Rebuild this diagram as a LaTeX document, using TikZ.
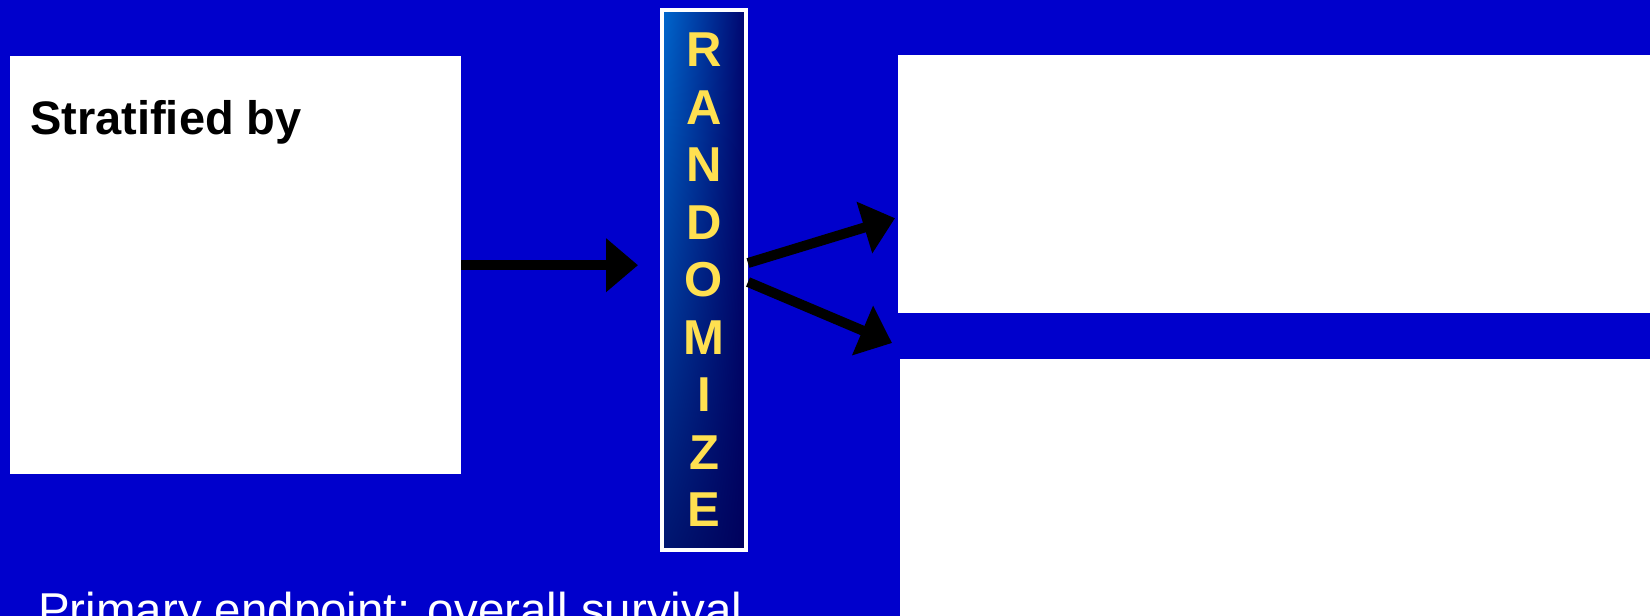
\documentclass[tikz,border=0pt]{standalone}
\usepackage{fontspec}
\setmainfont{Liberation Sans}
\definecolor{slideblue}{RGB}{0,0,204}
\definecolor{barlight}{RGB}{0,104,206}
\definecolor{bardark}{RGB}{0,4,110}
\definecolor{barmid}{RGB}{0,22,112}
\definecolor{bardeep}{RGB}{0,0,92}
\definecolor{gold}{RGB}{255,224,80}
\usetikzlibrary{arrows.meta, positioning, shadings}

\begin{document}
\begin{tikzpicture}[x=1pt, y=-1pt,
      panel/.style={rectangle, fill=white, draw=none, inner sep=0pt, anchor=north west},
      randbar/.style={rectangle, draw=white, line width=4pt, inner sep=0pt,
                      minimum width=84pt, minimum height=540pt,
                      upper left=barlight, upper right=bardark,
                      lower left=barmid, lower right=bardeep,
                      text=gold, align=center, font=\fontsize{49}{57.5}\selectfont\bfseries},
      bigarrow/.style={-{Triangle[length=32pt, width=52pt]}, line width=10pt, color=black},
      heading/.style={font=\fontsize{47}{56}\selectfont\bfseries, text=black, inner sep=0pt},
      footnote/.style={font=\fontsize{47.5}{56}\selectfont, text=white, inner sep=0pt}
    ]

    % slide background
    \fill[slideblue] (0,0) rectangle (1650,616);
    \useasboundingbox (0,0) rectangle (1650,616);

    % Strata box
    \node[panel, minimum width=451pt, minimum height=418pt] (strat) at (10,56) {};
    \node[heading, anchor=base west] (strattitle) at (30,134) {Stratified by};

    % Randomization bar
    \node[randbar] (rand) at (704,280) {R\\A\\N\\D\\O\\M\\I\\Z\\E};

    % Arms
    \node[panel, minimum width=752pt, minimum height=258pt] (armA) at (898,55) {};
    \node[panel, minimum width=750pt, minimum height=257pt] (armB) at (900,359) {};

    \draw[bigarrow, shorten >=22pt] (strat.east) -- (strat.east -| rand.west);
    \draw[bigarrow] ([yshift=17pt]rand.east) -- ([xshift=-3pt, yshift=-34pt]armA.west);
    \draw[bigarrow] ([yshift=-2pt]rand.east) -- ([xshift=-8pt, yshift=16pt]armB.north west);

    % Endpoint
    \node[footnote, anchor=base west] (endpoint) at (38,626) {Primary endpoint: overall survival};

  \end{tikzpicture}
\end{document}
